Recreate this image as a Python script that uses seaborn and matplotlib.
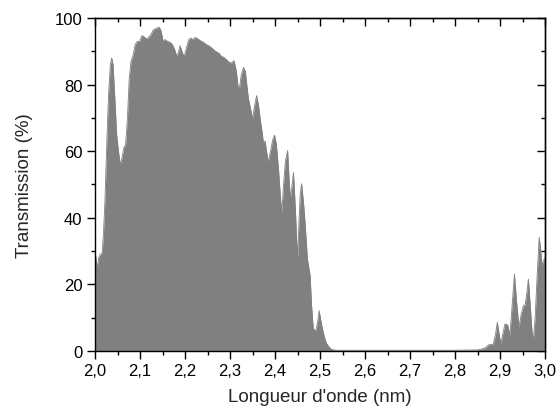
import matplotlib
matplotlib.use("Agg")
import matplotlib.pyplot as plt
import numpy as np
import pandas as pd
import seaborn as sns
from matplotlib.ticker import MultipleLocator, FuncFormatter

# transmission spectrum
wavelength = [
    2.000, 2.003, 2.005, 2.008, 2.012, 2.016, 2.019, 2.022, 2.026, 2.030,
    2.034, 2.037, 2.040, 2.044, 2.048, 2.052, 2.056, 2.060, 2.064, 2.068,
    2.072, 2.076, 2.080, 2.085, 2.089, 2.094, 2.099, 2.104, 2.108, 2.113,
    2.118, 2.124, 2.130, 2.137, 2.143, 2.147, 2.151, 2.156, 2.161, 2.167,
    2.172, 2.177, 2.181, 2.185, 2.189, 2.193, 2.198, 2.203, 2.208, 2.213,
    2.218, 2.222, 2.228, 2.234, 2.241, 2.248, 2.255, 2.262, 2.268, 2.275,
    2.281, 2.286, 2.292, 2.298, 2.303, 2.309, 2.314, 2.318, 2.321, 2.325,
    2.330, 2.334, 2.338, 2.341, 2.346, 2.350, 2.355, 2.359, 2.363, 2.367,
    2.371, 2.374, 2.378, 2.381, 2.385, 2.390, 2.395, 2.399, 2.403, 2.408,
    2.412, 2.415, 2.419, 2.423, 2.428, 2.431, 2.434, 2.438, 2.441, 2.445,
    2.450, 2.453, 2.456, 2.459, 2.463, 2.467, 2.472, 2.478, 2.481, 2.485,
    2.491, 2.495, 2.498, 2.502, 2.507, 2.511, 2.515, 2.520, 2.526, 2.535,
    2.600, 2.700, 2.800, 2.850, 2.860, 2.868, 2.874, 2.878, 2.885, 2.890,
    2.894, 2.898, 2.902, 2.906, 2.911, 2.917, 2.922, 2.927, 2.932, 2.936,
    2.942, 2.947, 2.952, 2.956, 2.960, 2.963, 2.967, 2.971, 2.974, 2.978,
    2.983, 2.987, 2.990, 2.993, 2.996, 3.000,
]
transmission = [
    30, 27, 25, 28, 29, 29.5, 36, 45, 62, 77,
    86, 88, 86, 76, 65, 60, 56, 58, 61, 62,
    70, 82, 87, 89, 92, 93, 93, 94.7, 94.5, 93.8,
    94, 95, 96.5, 97, 97.2, 96, 93.2, 93.5, 93, 92.7,
    92, 90.5, 88.7, 89.5, 91.7, 90, 88.4, 91, 93.5, 94,
    93.5, 94.2, 93.8, 93.2, 92.7, 92, 91.5, 90.7, 90, 89.5,
    88.5, 88.2, 87.5, 86.7, 86.5, 87.2, 84, 79.2, 79, 83,
    85.2, 84, 79, 75.7, 72.5, 69.7, 74, 76.7, 74, 69.7,
    66, 62.7, 63, 60, 56.7, 60, 63.5, 64.8, 62, 54,
    46, 41.5, 50, 57, 60.2, 52, 45.6, 50, 53.6, 43,
    27.6, 38, 47, 50.2, 45, 38, 27.6, 22.6, 14, 6.6,
    6.1, 9, 12.1, 9, 5.6, 3.5, 2.1, 1.2, 0.4, 0.2,
    0.2, 0.2, 0.2, 0.3, 0.6, 1, 1.8, 1.9, 2, 5,
    8.6, 5, 2.1, 5, 8.1, 7.8, 4.6, 14, 23.1, 16,
    7.1, 11, 13.6, 13.8, 18, 21.6, 14, 6, 3.1, 10,
    24, 34.1, 31, 25.6, 27, 28,
]

df = pd.DataFrame({"wl": wavelength, "T": transmission})

sns.set_style("ticks")
plt.rcParams["font.family"] = ["Liberation Sans", "DejaVu Sans"]

fig = plt.figure(figsize=(5.59, 4.14), dpi=100)
ax = fig.add_axes([0.170, 0.150, 0.805, 0.804])

grey = "#808080"
ax.fill_between(df["wl"], df["T"], 0, color=grey, lw=0)
sns.lineplot(data=df, x="wl", y="T", ax=ax, color=grey, lw=0.6)

ax.set_xlim(2.0, 3.0)
ax.set_ylim(0, 100)


def set_locators(a):
    a.xaxis.set_major_locator(MultipleLocator(0.1))
    a.xaxis.set_minor_locator(MultipleLocator(0.05))
    a.yaxis.set_major_locator(MultipleLocator(20))
    a.yaxis.set_minor_locator(MultipleLocator(10))


set_locators(ax)
ax.xaxis.set_major_formatter(FuncFormatter(lambda v, p: f"{v:.1f}".replace(".", ",")))

# bottom/left ticks point out, mirrored top/right ticks point in
ax.tick_params(which="both", direction="out", width=1, labelsize=12,
               colors="black", pad=3)
ax.tick_params(which="major", length=6)
ax.tick_params(which="minor", length=3)

top = ax.secondary_xaxis("top")
right = ax.secondary_yaxis("right")
top.xaxis.set_major_locator(MultipleLocator(0.1))
top.xaxis.set_minor_locator(MultipleLocator(0.05))
right.yaxis.set_major_locator(MultipleLocator(20))
right.yaxis.set_minor_locator(MultipleLocator(10))
for a in (top, right):
    a.tick_params(which="both", direction="in", width=1, colors="black",
                  labeltop=False, labelright=False)
    a.tick_params(which="major", length=6)
    a.tick_params(which="minor", length=3)
    for s in a.spines.values():
        s.set_linewidth(1)

for s in ax.spines.values():
    s.set_linewidth(1)
    s.set_color("black")

ax.set_xlabel("Longueur d'onde (nm)", fontsize=13.5, labelpad=7)
ax.set_ylabel("Transmission (%)", fontsize=13.5, labelpad=16)

fig.savefig("out.png", dpi=100)
